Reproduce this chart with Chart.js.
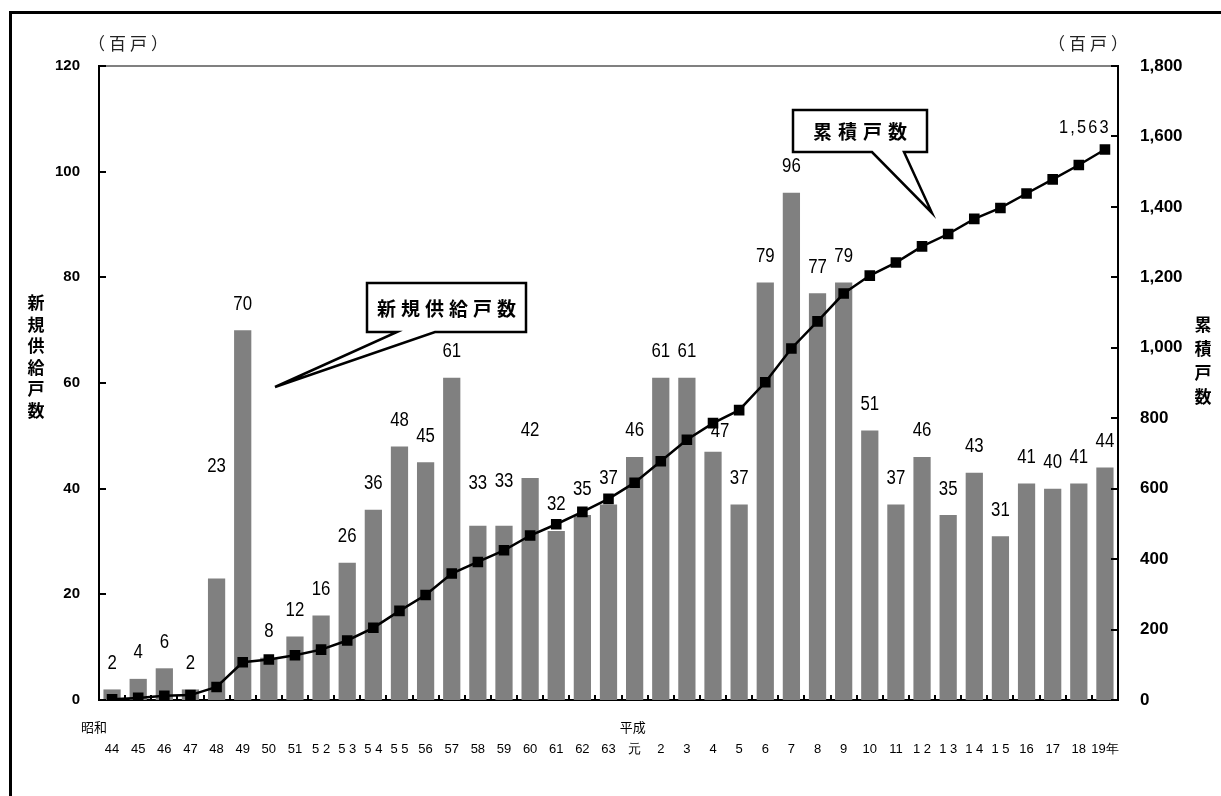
<!DOCTYPE html>
<html lang="ja">
<head>
<meta charset="utf-8">
<title>新規供給戸数と累積戸数</title>
<script src="https://cdn.jsdelivr.net/npm/chart.js@4.4.1/dist/chart.umd.min.js"></script>
<style>
  html, body { margin: 0; padding: 0; background: #fff; overflow: hidden; }
  #wrap { position: relative; width: 1221px; height: 796px; }
</style>
</head>
<body>
<div id="wrap"><canvas id="chart" width="1221" height="796"></canvas></div>
<script>
// 年次（昭和44年〜平成19年）
const eraLabels = ['昭和', '', '', '', '', '', '', '', '', '', '', '', '', '', '', '', '', '', '', '',
                   '平成', '', '', '', '', '', '', '', '', '', '', '', '', '', '', '', '', '', ''];
const yearLabels = ['44', '45', '46', '47', '48', '49', '50', '51', '5 2', '5 3', '5 4', '5 5', '56', '57', '58', '59', '60', '61', '62', '63',
                    '元', '2', '3', '4', '5', '6', '7', '8', '9', '10', '11', '1 2', '1 3', '1 4', '1 5', '16', '17', '18', '19年'];

// 新規供給戸数（百戸）
const newUnits = [2, 4, 6, 2, 23, 70, 8, 12, 16, 26, 36, 48, 45, 61, 33, 33, 42, 32, 35, 37,
                  46, 61, 61, 47, 37, 79, 96, 77, 79, 51, 37, 46, 35, 43, 31, 41, 40, 41, 44];

// 累積戸数（百戸）
const cumulativeUnits = [2, 6, 12, 14, 37, 107, 115, 127, 143, 169, 205, 253, 298, 359, 392, 425, 467, 499, 534, 571,
                         617, 678, 739, 786, 823, 902, 998, 1075, 1154, 1205, 1242, 1288, 1323, 1366, 1397, 1438, 1478, 1519, 1563];

// 軸目盛
const leftTicks = { min: 0, max: 120, step: 20 };
const rightTicks = { min: 0, max: 1800, step: 200 };

// 1行目は元号用に空けておく（元号は別途描画）
const categories = yearLabels.map((y) => ['', y]);

const SANS = "'Liberation Sans', Arial, sans-serif";
const CJK = "'Noto Sans CJK JP', 'Noto Sans', sans-serif";

// 値ラベルの持ち上げ量（px）：折れ線と重なる箇所だけ個別に調整
const labelLift = { 4: 112, 14: 42, 15: 44, 16: 48, 23: 20 };
const labelShift = { 23: 7 };
// 元号ラベルの横ずれ（px）
const eraShift = { 0: -18, 20: -2 };

// 縦長の数字（横方向に詰めて描く）
function narrowText(ctx, text, x, y, squeeze) {
  ctx.save();
  ctx.translate(x, y);
  ctx.scale(squeeze, 1);
  ctx.fillText(text, 0, 0);
  ctx.restore();
}

const decor = {
  id: 'decor',
  afterDatasetsDraw(chart) {
    const { ctx, chartArea: a, scales } = chart;
    const xs = scales.x, ys = scales.y, y2 = scales.y2;
    ctx.save();

    // plot frame top (gray)
    ctx.strokeStyle = '#808080';
    ctx.lineWidth = 2;
    ctx.beginPath();
    ctx.moveTo(a.left, a.top);
    ctx.lineTo(a.right, a.top);
    ctx.stroke();

    // inward tick marks
    ctx.strokeStyle = '#000';
    ctx.lineWidth = 2;
    ctx.beginPath();
    for (let v = leftTicks.min; v <= leftTicks.max; v += leftTicks.step) {
      const py = Math.round(ys.getPixelForValue(v));
      ctx.moveTo(a.left, py); ctx.lineTo(a.left + 7, py);
    }
    for (let v = rightTicks.min; v <= rightTicks.max; v += rightTicks.step) {
      const py = Math.round(y2.getPixelForValue(v));
      ctx.moveTo(a.right, py); ctx.lineTo(a.right - 7, py);
    }
    for (let i = 1; i < yearLabels.length; i++) {
      const px = Math.round((xs.getPixelForValue(i - 1) + xs.getPixelForValue(i)) / 2);
      ctx.moveTo(px, a.bottom); ctx.lineTo(px, a.bottom - 5);
    }
    ctx.stroke();

    // era names above the year numbers
    ctx.fillStyle = '#000';
    ctx.font = '13px ' + CJK;
    ctx.textAlign = 'center';
    ctx.textBaseline = 'middle';
    eraLabels.forEach((e, i) => {
      if (e) ctx.fillText(e, xs.getPixelForValue(i) + (eraShift[i] || 0), a.bottom + 27);
    });

    // bar value labels
    const barMeta = chart.getDatasetMeta(0);
    ctx.font = '20px ' + SANS;
    barMeta.data.forEach((bar, i) => {
      const lift = labelLift[i] !== undefined ? labelLift[i] : 26;
      const dx = labelShift[i] || 0;
      narrowText(ctx, String(newUnits[i]), bar.x + dx, bar.y - lift, 0.84);
    });

    // cumulative total at the last point
    const lineMeta = chart.getDatasetMeta(1);
    const last = lineMeta.data[lineMeta.data.length - 1];
    ctx.save();
    ctx.font = '19px ' + SANS;
    ctx.letterSpacing = '2.5px';
    narrowText(ctx, cumulativeUnits[cumulativeUnits.length - 1].toLocaleString('en-US'), last.x - 20, last.y - 22, 0.86);
    ctx.restore();

    // unit captions
    ctx.save();
    ctx.font = '17px ' + CJK;
    ctx.fillStyle = '#222';
    ctx.letterSpacing = '4px';
    ctx.fillText('（百戸）', 130, 44);
    ctx.fillText('（百戸）', 1090, 44);
    ctx.restore();

    // vertical axis titles
    ctx.fillStyle = '#000';
    ctx.font = 'bold 17px ' + CJK;
    '新規供給戸数'.split('').forEach((ch, i) => ctx.fillText(ch, 36, 303 + i * 21.5));
    '累積戸数'.split('').forEach((ch, i) => ctx.fillText(ch, 1203, 325 + i * 24));

    // callouts
    const callout = (box, baseL, baseR, tip, text, spacing) => {
      ctx.save();
      ctx.beginPath();
      ctx.moveTo(box.l, box.t);
      ctx.lineTo(box.r, box.t);
      ctx.lineTo(box.r, box.b);
      ctx.lineTo(baseR, box.b);
      ctx.lineTo(tip.x, tip.y);
      ctx.lineTo(baseL, box.b);
      ctx.lineTo(box.l, box.b);
      ctx.closePath();
      ctx.fillStyle = '#fff';
      ctx.fill();
      ctx.lineWidth = 2.5;
      ctx.lineJoin = 'miter';
      ctx.strokeStyle = '#000';
      ctx.stroke();
      ctx.fillStyle = '#000';
      ctx.font = 'bold 19px ' + CJK;
      ctx.letterSpacing = spacing + 'px';
      ctx.textAlign = 'center';
      ctx.textBaseline = 'middle';
      ctx.fillText(text, (box.l + box.r) / 2 + spacing / 2, (box.t + box.b) / 2 + 1);
      ctx.restore();
    };
    callout({ l: 367, t: 283, r: 526, b: 332 }, 397, 435, { x: 275, y: 387 }, '新規供給戸数', 5);
    callout({ l: 793, t: 110, r: 927, b: 152 }, 872, 904, { x: 932, y: 213 }, '累積戸数', 6);

    // outer frame
    ctx.strokeStyle = '#000';
    ctx.lineWidth = 3;
    ctx.beginPath();
    ctx.moveTo(10.5, 796);
    ctx.lineTo(10.5, 12.5);
    ctx.lineTo(1221, 12.5);
    ctx.stroke();

    ctx.restore();
  }
};

new Chart(document.getElementById('chart'), {
  type: 'bar',
  data: {
    labels: categories,
    datasets: [
      {
        type: 'bar',
        label: '新規供給戸数',
        data: newUnits,
        yAxisID: 'y',
        backgroundColor: '#808080',
        borderWidth: 0,
        barPercentage: 0.66,
        categoryPercentage: 1,
        order: 2
      },
      {
        type: 'line',
        label: '累積戸数',
        data: cumulativeUnits,
        yAxisID: 'y2',
        borderColor: '#000',
        borderWidth: 2.5,
        pointStyle: 'rect',
        pointRadius: 7.5,
        pointBackgroundColor: '#000',
        pointBorderColor: '#000',
        pointBorderWidth: 0,
        tension: 0,
        order: 1
      }
    ]
  },
  options: {
    responsive: false,
    animation: false,
    devicePixelRatio: 1,
    layout: { padding: { top: 66, left: 0, right: 0, bottom: 0 } },
    plugins: { legend: { display: false }, tooltip: { enabled: false } },
    scales: {
      x: {
        grid: { display: false, drawTicks: false },
        border: { display: true, color: '#000', width: 2 },
        ticks: {
          color: '#000',
          font: { family: SANS, size: 13, lineHeight: 1.62 },
          padding: 18,
          maxRotation: 0,
          minRotation: 0,
          autoSkip: false
        },
        afterFit(scale) { scale.height = 96; }
      },
      y: {
        position: 'left',
        min: leftTicks.min,
        max: leftTicks.max,
        grid: { display: false, drawTicks: false },
        border: { display: true, color: '#000', width: 2 },
        ticks: {
          stepSize: leftTicks.step,
          color: '#000',
          font: { family: SANS, size: 15, weight: 'bold' },
          padding: 19
        },
        afterFit(scale) { scale.width = 99; }
      },
      y2: {
        position: 'right',
        min: rightTicks.min,
        max: rightTicks.max,
        grid: { display: false, drawTicks: false },
        border: { display: true, color: '#000', width: 2 },
        ticks: {
          stepSize: rightTicks.step,
          color: '#000',
          font: { family: SANS, size: 17, weight: 'bold' },
          padding: 22,
          callback: (v) => Number(v).toLocaleString('en-US')
        },
        afterFit(scale) { scale.width = 103; }
      }
    }
  },
  plugins: [decor]
});
</script>
</body>
</html>
